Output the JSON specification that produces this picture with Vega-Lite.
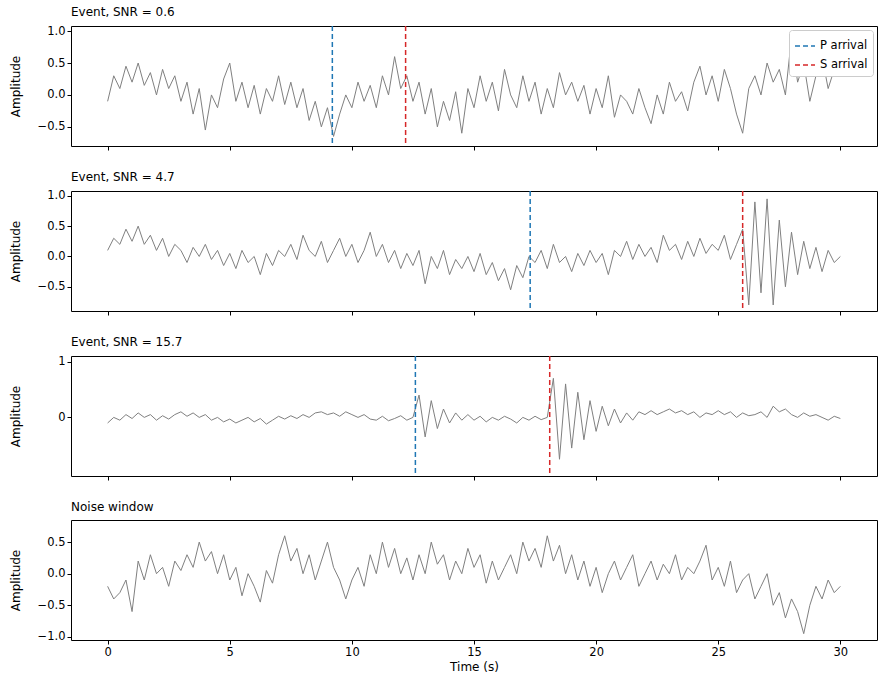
{
  "$schema": "https://vega.github.io/schema/vega-lite/v6.json",
  "padding": {"left": 8, "top": 5, "right": 2, "bottom": 5},
  "spacing": 19,
  "config": {
    "font": "DejaVu Sans",
    "view": {"stroke": "black", "strokeWidth": 1},
    "axis": {"grid": false, "domain": false, "tickColor": "black", "labelColor": "black", "titleColor": "black", "labelFontSize": 11.5, "titleFontSize": 12, "titleFontWeight": "normal", "tickSize": 4},
    "axisY": {"minExtent": 45},
    "title": {"anchor": "start", "frame": "group", "fontSize": 12, "fontWeight": "normal", "offset": 6},
    "legend": {"labelFontSize": 11.5, "symbolStrokeWidth": 1.5}
  },
  "datasets": {
    "arrivals": [
      {"panel": 1, "t": 9.2, "phase": "P arrival"},
      {"panel": 1, "t": 12.2, "phase": "S arrival"},
      {"panel": 2, "t": 17.3, "phase": "P arrival"},
      {"panel": 2, "t": 26.0, "phase": "S arrival"},
      {"panel": 3, "t": 12.6, "phase": "P arrival"},
      {"panel": 3, "t": 18.1, "phase": "S arrival"}
    ],
    "w": [
      {"t":0,"a1":-0.1,"a2":0.1,"a3":-0.1,"a4":-0.2},
      {"t":0.25,"a1":0.3,"a2":0.3,"a3":0.0,"a4":-0.4},
      {"t":0.5,"a1":0.1,"a2":0.2,"a3":-0.05,"a4":-0.3},
      {"t":0.75,"a1":0.45,"a2":0.45,"a3":0.05,"a4":-0.1},
      {"t":1,"a1":0.2,"a2":0.25,"a3":-0.02,"a4":-0.6},
      {"t":1.25,"a1":0.5,"a2":0.5,"a3":0.08,"a4":0.2},
      {"t":1.5,"a1":0.15,"a2":0.2,"a3":0.0,"a4":-0.1},
      {"t":1.75,"a1":0.35,"a2":0.35,"a3":0.05,"a4":0.3},
      {"t":2,"a1":0.0,"a2":0.1,"a3":-0.05,"a4":0.0},
      {"t":2.25,"a1":0.4,"a2":0.3,"a3":0.03,"a4":0.1},
      {"t":2.5,"a1":0.1,"a2":0.0,"a3":-0.03,"a4":-0.2},
      {"t":2.75,"a1":0.3,"a2":0.2,"a3":0.05,"a4":0.2},
      {"t":3,"a1":-0.1,"a2":0.1,"a3":0.1,"a4":0.05},
      {"t":3.25,"a1":0.2,"a2":-0.1,"a3":0.02,"a4":0.3},
      {"t":3.5,"a1":-0.3,"a2":0.15,"a3":0.08,"a4":0.1},
      {"t":3.75,"a1":0.1,"a2":0.0,"a3":0.0,"a4":0.5},
      {"t":4,"a1":-0.55,"a2":0.2,"a3":0.05,"a4":0.2},
      {"t":4.25,"a1":0.0,"a2":-0.05,"a3":-0.05,"a4":0.35},
      {"t":4.5,"a1":-0.2,"a2":0.1,"a3":0.0,"a4":0.0},
      {"t":4.75,"a1":0.25,"a2":-0.15,"a3":-0.08,"a4":0.3},
      {"t":5,"a1":0.5,"a2":0.05,"a3":-0.03,"a4":-0.1},
      {"t":5.25,"a1":-0.1,"a2":-0.2,"a3":-0.1,"a4":0.1},
      {"t":5.5,"a1":0.2,"a2":0.1,"a3":-0.05,"a4":-0.35},
      {"t":5.75,"a1":-0.2,"a2":-0.1,"a3":0.0,"a4":0.0},
      {"t":6,"a1":0.15,"a2":0.0,"a3":-0.08,"a4":-0.2},
      {"t":6.25,"a1":-0.3,"a2":-0.3,"a3":-0.02,"a4":-0.45},
      {"t":6.5,"a1":0.1,"a2":0.05,"a3":-0.12,"a4":0.05},
      {"t":6.75,"a1":-0.1,"a2":-0.15,"a3":-0.05,"a4":-0.15},
      {"t":7,"a1":0.3,"a2":0.1,"a3":0.02,"a4":0.3},
      {"t":7.25,"a1":-0.15,"a2":0.0,"a3":-0.03,"a4":0.6},
      {"t":7.5,"a1":0.2,"a2":0.2,"a3":0.03,"a4":0.2},
      {"t":7.75,"a1":-0.2,"a2":-0.05,"a3":-0.02,"a4":0.4},
      {"t":8,"a1":0.1,"a2":0.35,"a3":0.05,"a4":0.0},
      {"t":8.25,"a1":-0.4,"a2":0.1,"a3":0.0,"a4":0.3},
      {"t":8.5,"a1":-0.1,"a2":0.0,"a3":0.08,"a4":-0.1},
      {"t":8.75,"a1":-0.5,"a2":0.25,"a3":0.1,"a4":0.2},
      {"t":9,"a1":-0.2,"a2":-0.1,"a3":0.05,"a4":0.5},
      {"t":9.25,"a1":-0.65,"a2":0.1,"a3":0.08,"a4":0.1},
      {"t":9.5,"a1":-0.3,"a2":0.3,"a3":0.02,"a4":-0.1},
      {"t":9.75,"a1":0.0,"a2":0.0,"a3":0.1,"a4":-0.4},
      {"t":10,"a1":-0.2,"a2":0.2,"a3":0.05,"a4":-0.1},
      {"t":10.25,"a1":0.2,"a2":-0.1,"a3":0.0,"a4":0.1},
      {"t":10.5,"a1":-0.1,"a2":0.1,"a3":0.05,"a4":-0.2},
      {"t":10.75,"a1":0.15,"a2":0.4,"a3":-0.03,"a4":0.3},
      {"t":11,"a1":-0.2,"a2":0.0,"a3":-0.05,"a4":0.0},
      {"t":11.25,"a1":0.3,"a2":0.2,"a3":0.02,"a4":0.5},
      {"t":11.5,"a1":0.0,"a2":-0.1,"a3":-0.06,"a4":0.1},
      {"t":11.75,"a1":0.6,"a2":0.1,"a3":-0.02,"a4":0.4},
      {"t":12,"a1":0.1,"a2":-0.2,"a3":0.03,"a4":0.0},
      {"t":12.25,"a1":0.3,"a2":0.05,"a3":-0.05,"a4":0.25},
      {"t":12.5,"a1":-0.1,"a2":-0.15,"a3":0.0,"a4":-0.1},
      {"t":12.75,"a1":0.2,"a2":0.1,"a3":0.4,"a4":0.3},
      {"t":13,"a1":-0.3,"a2":-0.45,"a3":-0.35,"a4":0.0},
      {"t":13.25,"a1":0.1,"a2":0.0,"a3":0.3,"a4":0.5},
      {"t":13.5,"a1":-0.5,"a2":-0.2,"a3":-0.2,"a4":0.15},
      {"t":13.75,"a1":-0.1,"a2":0.1,"a3":0.15,"a4":0.3},
      {"t":14,"a1":-0.4,"a2":-0.3,"a3":-0.1,"a4":-0.1},
      {"t":14.25,"a1":0.05,"a2":-0.05,"a3":0.08,"a4":0.2},
      {"t":14.5,"a1":-0.6,"a2":-0.2,"a3":-0.05,"a4":0.0},
      {"t":14.75,"a1":0.1,"a2":0.0,"a3":0.05,"a4":0.4},
      {"t":15,"a1":-0.2,"a2":-0.25,"a3":-0.05,"a4":0.1},
      {"t":15.25,"a1":0.3,"a2":0.05,"a3":0.02,"a4":0.3},
      {"t":15.5,"a1":-0.1,"a2":-0.3,"a3":-0.08,"a4":-0.15},
      {"t":15.75,"a1":0.2,"a2":-0.1,"a3":0.0,"a4":0.2},
      {"t":16,"a1":-0.25,"a2":-0.4,"a3":-0.05,"a4":-0.1},
      {"t":16.25,"a1":0.4,"a2":-0.2,"a3":0.02,"a4":0.1},
      {"t":16.5,"a1":0.0,"a2":-0.55,"a3":-0.03,"a4":0.3},
      {"t":16.75,"a1":-0.2,"a2":-0.15,"a3":-0.1,"a4":0.0},
      {"t":17,"a1":0.3,"a2":-0.35,"a3":0.0,"a4":0.5},
      {"t":17.25,"a1":-0.1,"a2":0.0,"a3":-0.05,"a4":0.2},
      {"t":17.5,"a1":0.2,"a2":-0.1,"a3":0.02,"a4":0.4},
      {"t":17.75,"a1":-0.3,"a2":0.1,"a3":-0.04,"a4":0.1},
      {"t":18,"a1":0.1,"a2":-0.2,"a3":0.0,"a4":0.6},
      {"t":18.25,"a1":-0.2,"a2":0.2,"a3":0.7,"a4":0.2},
      {"t":18.5,"a1":0.35,"a2":-0.1,"a3":-0.75,"a4":0.45},
      {"t":18.75,"a1":0.0,"a2":0.0,"a3":0.6,"a4":0.0},
      {"t":19,"a1":0.2,"a2":-0.25,"a3":-0.55,"a4":0.3},
      {"t":19.25,"a1":-0.1,"a2":0.05,"a3":0.45,"a4":-0.1},
      {"t":19.5,"a1":0.15,"a2":-0.15,"a3":-0.4,"a4":0.2},
      {"t":19.75,"a1":-0.3,"a2":0.1,"a3":0.3,"a4":-0.2},
      {"t":20,"a1":0.1,"a2":-0.1,"a3":-0.25,"a4":0.1},
      {"t":20.25,"a1":-0.2,"a2":0.05,"a3":0.2,"a4":-0.3},
      {"t":20.5,"a1":0.3,"a2":-0.3,"a3":-0.15,"a4":0.0},
      {"t":20.75,"a1":-0.35,"a2":0.1,"a3":0.15,"a4":0.2},
      {"t":21,"a1":0.0,"a2":0.0,"a3":-0.1,"a4":-0.1},
      {"t":21.25,"a1":-0.1,"a2":0.25,"a3":0.08,"a4":0.1},
      {"t":21.5,"a1":-0.3,"a2":-0.05,"a3":-0.05,"a4":0.3},
      {"t":21.75,"a1":0.1,"a2":0.2,"a3":0.1,"a4":-0.2},
      {"t":22,"a1":-0.2,"a2":0.0,"a3":0.05,"a4":0.0},
      {"t":22.25,"a1":-0.45,"a2":0.15,"a3":0.12,"a4":0.2},
      {"t":22.5,"a1":0.0,"a2":-0.1,"a3":0.05,"a4":-0.1},
      {"t":22.75,"a1":-0.3,"a2":0.35,"a3":0.1,"a4":0.15},
      {"t":23,"a1":0.2,"a2":0.1,"a3":0.15,"a4":0.0},
      {"t":23.25,"a1":-0.1,"a2":0.2,"a3":0.08,"a4":0.3},
      {"t":23.5,"a1":0.05,"a2":-0.05,"a3":0.12,"a4":-0.1},
      {"t":23.75,"a1":-0.25,"a2":0.25,"a3":0.05,"a4":0.1},
      {"t":24,"a1":0.2,"a2":0.0,"a3":0.1,"a4":0.0},
      {"t":24.25,"a1":0.45,"a2":0.3,"a3":0.0,"a4":0.2},
      {"t":24.5,"a1":0.0,"a2":0.05,"a3":0.08,"a4":0.45},
      {"t":24.75,"a1":0.3,"a2":0.2,"a3":0.05,"a4":-0.1},
      {"t":25,"a1":-0.1,"a2":0.1,"a3":0.12,"a4":0.1},
      {"t":25.25,"a1":0.4,"a2":0.35,"a3":0.05,"a4":-0.2},
      {"t":25.5,"a1":0.1,"a2":-0.05,"a3":0.1,"a4":0.2},
      {"t":25.75,"a1":-0.3,"a2":0.2,"a3":0.0,"a4":-0.3},
      {"t":26,"a1":-0.6,"a2":0.45,"a3":0.08,"a4":-0.1},
      {"t":26.25,"a1":0.1,"a2":-0.8,"a3":0.03,"a4":0.0},
      {"t":26.5,"a1":0.3,"a2":0.9,"a3":0.05,"a4":-0.4},
      {"t":26.75,"a1":0.0,"a2":-0.6,"a3":0.1,"a4":-0.2},
      {"t":27,"a1":0.5,"a2":0.95,"a3":0.0,"a4":0.0},
      {"t":27.25,"a1":0.2,"a2":-0.8,"a3":0.2,"a4":-0.5},
      {"t":27.5,"a1":0.4,"a2":0.6,"a3":0.1,"a4":-0.3},
      {"t":27.75,"a1":0.0,"a2":-0.5,"a3":0.15,"a4":-0.7},
      {"t":28,"a1":0.9,"a2":0.4,"a3":0.05,"a4":-0.4},
      {"t":28.25,"a1":0.2,"a2":-0.3,"a3":0.0,"a4":-0.6},
      {"t":28.5,"a1":0.5,"a2":0.25,"a3":0.08,"a4":-0.95},
      {"t":28.75,"a1":-0.1,"a2":-0.2,"a3":0.02,"a4":-0.5},
      {"t":29,"a1":0.3,"a2":0.15,"a3":0.05,"a4":-0.2},
      {"t":29.25,"a1":0.6,"a2":-0.25,"a3":0.0,"a4":-0.4},
      {"t":29.5,"a1":0.1,"a2":0.1,"a3":-0.05,"a4":-0.1},
      {"t":29.75,"a1":0.4,"a2":-0.1,"a3":0.02,"a4":-0.3},
      {"t":30,"a1":0.3,"a2":0.0,"a3":-0.02,"a4":-0.2}
    ]
  },
  "vconcat": [
    {
      "title": "Event, SNR = 0.6",
      "width": 806, "height": 120,
      "layer": [
        {"data": {"name": "w"}, "mark": {"type": "line", "color": "gray", "strokeWidth": 1},
         "encoding": {
           "x": {"field": "t", "type": "quantitative", "scale": {"domain": [-1.5, 31.5], "nice": false}, "axis": {"values": [0,5,10,15,20,25,30], "labels": false, "title": null}},
           "y": {"field": "a1", "type": "quantitative", "scale": {"domain": [-0.8, 1.08], "nice": false, "zero": false}, "axis": {"values": [-0.5,0,0.5,1], "format": ".1f", "title": "Amplitude"}}}},
        {"data": {"name": "arrivals"}, "transform": [{"filter": "datum.panel == 1"}],
         "mark": {"type": "rule", "strokeDash": [5, 3], "strokeWidth": 1.5},
         "encoding": {"x": {"field": "t", "type": "quantitative"},
           "color": {"field": "phase", "type": "nominal", "scale": {"domain": ["P arrival", "S arrival"], "range": ["#1f77b4", "#d62728"]},
             "legend": {"title": null, "orient": "top-right", "offset": 4, "strokeColor": "#cccccc", "fillColor": "white", "padding": 5, "cornerRadius": 3, "symbolType": "stroke", "symbolDash": [5,3], "symbolSize": 400}}}}
      ]
    },
    {
      "title": "Event, SNR = 4.7",
      "width": 806, "height": 120,
      "layer": [
        {"data": {"name": "w"}, "mark": {"type": "line", "color": "gray", "strokeWidth": 1},
         "encoding": {
           "x": {"field": "t", "type": "quantitative", "scale": {"domain": [-1.5, 31.5], "nice": false}, "axis": {"values": [0,5,10,15,20,25,30], "labels": false, "title": null}},
           "y": {"field": "a2", "type": "quantitative", "scale": {"domain": [-0.9, 1.08], "nice": false, "zero": false}, "axis": {"values": [-0.5,0,0.5,1], "format": ".1f", "title": "Amplitude"}}}},
        {"data": {"name": "arrivals"}, "transform": [{"filter": "datum.panel == 2"}],
         "mark": {"type": "rule", "strokeDash": [5, 3], "strokeWidth": 1.5},
         "encoding": {"x": {"field": "t", "type": "quantitative"},
           "color": {"field": "phase", "type": "nominal", "scale": {"domain": ["P arrival", "S arrival"], "range": ["#1f77b4", "#d62728"]}, "legend": null}}}
      ]
    },
    {
      "title": "Event, SNR = 15.7",
      "width": 806, "height": 120,
      "layer": [
        {"data": {"name": "w"}, "mark": {"type": "line", "color": "gray", "strokeWidth": 1},
         "encoding": {
           "x": {"field": "t", "type": "quantitative", "scale": {"domain": [-1.5, 31.5], "nice": false}, "axis": {"values": [0,5,10,15,20,25,30], "labels": false, "title": null}},
           "y": {"field": "a3", "type": "quantitative", "scale": {"domain": [-1.05, 1.1], "nice": false, "zero": false}, "axis": {"values": [0,1], "title": "Amplitude"}}}},
        {"data": {"name": "arrivals"}, "transform": [{"filter": "datum.panel == 3"}],
         "mark": {"type": "rule", "strokeDash": [5, 3], "strokeWidth": 1.5},
         "encoding": {"x": {"field": "t", "type": "quantitative"},
           "color": {"field": "phase", "type": "nominal", "scale": {"domain": ["P arrival", "S arrival"], "range": ["#1f77b4", "#d62728"]}, "legend": null}}}
      ]
    },
    {
      "title": "Noise window",
      "width": 806, "height": 120,
      "data": {"name": "w"},
      "mark": {"type": "line", "color": "gray", "strokeWidth": 1},
      "encoding": {
        "x": {"field": "t", "type": "quantitative", "scale": {"domain": [-1.5, 31.5], "nice": false}, "axis": {"values": [0,5,10,15,20,25,30], "title": "Time (s)"}},
        "y": {"field": "a4", "type": "quantitative", "scale": {"domain": [-1.05, 0.85], "nice": false, "zero": false}, "axis": {"values": [-1,-0.5,0,0.5], "format": ".1f", "title": "Amplitude"}}
      }
    }
  ]
}
